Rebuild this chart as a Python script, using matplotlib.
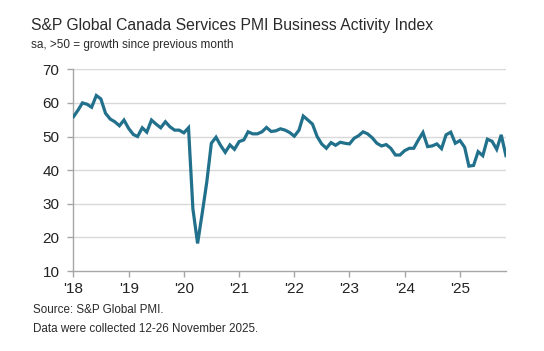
import matplotlib
matplotlib.use("Agg")
import matplotlib.pyplot as plt
import pandas as pd

# monthly index values
pmi_2018 = [55.9, 57.9, 60.0, 59.6, 58.7, 62.2, 61.2, 56.9, 55.2, 54.4, 53.2, 54.9]
pmi_2019 = [52.4, 50.6, 50.0, 52.6, 51.3, 54.9, 53.7, 52.6, 54.4, 52.9, 51.9, 51.9]
pmi_2020 = [51.1, 52.6, 28.5, 18.2, 27.0, 36.5, 48.0, 49.8, 47.3, 45.3, 47.5, 46.2]
pmi_2021 = [48.5, 49.0, 51.4, 50.8, 50.8, 51.4, 52.7, 51.5, 51.7, 52.3, 51.9, 51.2]
pmi_2022 = [50.1, 51.9, 56.1, 54.9, 53.7, 50.0, 47.8, 46.5, 48.2, 47.4, 48.3, 48.0]
pmi_2023 = [47.8, 49.5, 50.2, 51.4, 50.8, 49.6, 48.0, 47.2, 47.6, 46.5, 44.5, 44.5]
pmi_2024 = [45.8, 46.5, 46.5, 49.0, 51.2, 47.0, 47.2, 47.8, 46.4, 50.5, 51.3, 48.0]
pmi_2025 = [48.8, 46.8, 41.2, 41.4, 45.5, 44.3, 49.2, 48.6, 46.2, 50.5, 44.3]

values = pmi_2018 + pmi_2019 + pmi_2020 + pmi_2021 + pmi_2022 + pmi_2023 + pmi_2024 + pmi_2025
months = pd.date_range("2018-01-01", periods=len(values), freq="MS")

year_ticks = pd.date_range("2018-01-01", "2025-01-01", freq="YS")
year_labels = ["'18", "'19", "'20", "'21", "'22", "'23", "'24", "'25"]
y_ticks = [10, 20, 30, 40, 50, 60, 70]

plt.rcParams["font.family"] = ["Liberation Sans", "DejaVu Sans"]

fig = plt.figure(figsize=(5.44, 3.51), dpi=100)
ax = fig.add_axes([0.1351, 0.2279, 0.7949, 0.5747])

# horizontal grid, the 10 line is the axis itself
for y in y_ticks[1:]:
    ax.axhline(y, color="#d9d9d9", lw=1.0, zorder=1)

ax.plot(months, values, color="#21708c", lw=2.3, solid_joinstyle="miter", zorder=3)

ax.set_xlim(months[0], months[-1])
ax.set_ylim(10, 70)
ax.set_yticks(y_ticks)
ax.set_xticks(year_ticks)
ax.set_xticklabels(year_labels)

for s in ["top", "right"]:
    ax.spines[s].set_visible(False)
for s in ["left", "bottom"]:
    ax.spines[s].set_color("#a6a6a6")
    ax.spines[s].set_linewidth(1.0)

ax.tick_params(axis="both", colors="#a6a6a6", labelcolor="#222222",
               labelsize=11, length=4, width=1.0)
ax.tick_params(axis="x", pad=4)
ax.tick_params(axis="y", pad=6)

fig.text(0.057, 0.928, "S&P Global Canada Services PMI Business Activity Index",
         fontsize=11.3, color="#2a2a2a", ha="left", va="center")
fig.text(0.057, 0.873, "sa, >50 = growth since previous month",
         fontsize=8.5, color="#2a2a2a", ha="left", va="center")
fig.text(0.061, 0.116, "Source: S&P Global PMI.",
         fontsize=8.4, color="#2a2a2a", ha="left", va="center")
fig.text(0.061, 0.062, "Data were collected 12-26 November 2025.",
         fontsize=8.4, color="#2a2a2a", ha="left", va="center")

fig.savefig("out.png", dpi=100, facecolor="white")
